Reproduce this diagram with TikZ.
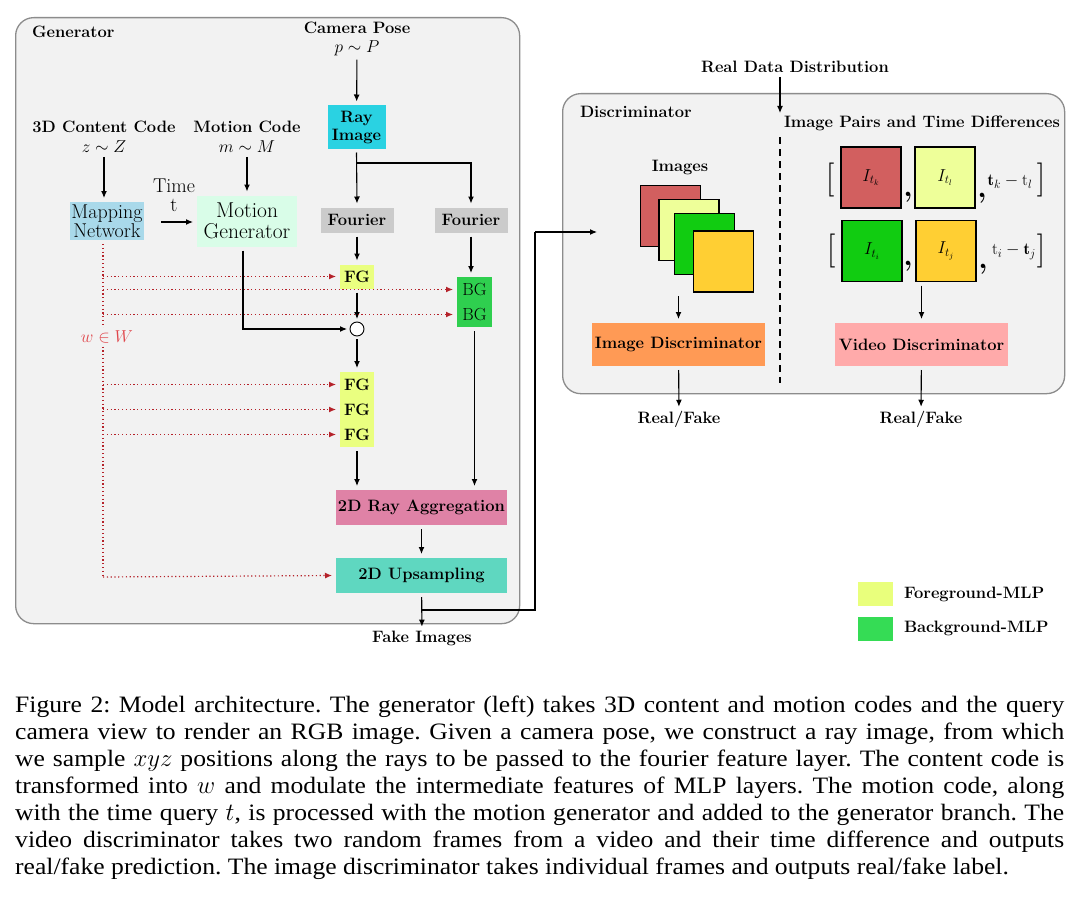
\documentclass[tikz,border=0pt]{standalone}
\usepackage{fontspec}
\newfontfamily\capfont[FakeStretch=1.09]{Liberation Serif}
\usetikzlibrary{arrows.meta,calc}
\definecolor{genbg}{HTML}{F2F2F2}
\definecolor{boxline}{HTML}{8C8C8C}
\definecolor{raycol}{HTML}{2AD2E2}
\definecolor{fourcol}{HTML}{CBCBCB}
\definecolor{mapcol}{HTML}{A9D9EA}
\definecolor{motcol}{HTML}{D9FDE8}
\definecolor{fgcol}{HTML}{EAFF80}
\definecolor{bgcol}{HTML}{2FCF4F}
\definecolor{aggcol}{HTML}{DF82A6}
\definecolor{upcol}{HTML}{5FD7C0}
\definecolor{idcol}{HTML}{FF9A55}
\definecolor{vdcol}{HTML}{FFAAAA}
\definecolor{imred}{HTML}{D25F5F}
\definecolor{imlime}{HTML}{EEFF99}
\definecolor{imgreen}{HTML}{11CC11}
\definecolor{imyellow}{HTML}{FFCF33}
\definecolor{dotred}{HTML}{B5222A}
\definecolor{wred}{HTML}{E0474C}
\definecolor{lgfg}{HTML}{E9FF7C}
\definecolor{lgbg}{HTML}{35DC55}
\tikzset{
 fb/.style={font=\fontsize{16.5}{18}\selectfont\bfseries},
 fr/.style={font=\fontsize{20}{19}\selectfont},
 fm/.style={font=\fontsize{16.5}{18}\selectfont},
 blk/.style={rectangle, inner sep=0pt, outer sep=4pt, align=center, text=black},
 lab/.style={inner sep=1pt, outer sep=3pt, align=center},
 arr/.style={line width=1.1pt, -{Latex[length=7pt,width=6pt]}},
 ln/.style={line width=1.1pt},
 dotarr/.style={draw=dotred, line width=1.2pt, dash pattern=on 1.2pt off 2.6pt, -{Latex[length=7pt,width=6pt,fill=dotred]}},
 dotln/.style={draw=dotred, line width=1.2pt, dash pattern=on 1.2pt off 2.6pt},
 panel/.style={rectangle, draw=boxline, fill=genbg, line width=1.3pt, rounded corners=18pt, inner sep=0pt},
 imgbox/.style={rectangle, draw=black, line width=1.3pt, minimum width=60pt, minimum height=61pt, inner sep=0pt, outer sep=4pt, font=\fontsize{17}{18}\selectfont},
 brk/.style={inner sep=0pt, font=\fontsize{34}{34}\selectfont},
 cma/.style={inner sep=0pt, font=\fontsize{30}{30}\selectfont\bfseries},
 capline/.style={inner sep=0pt, anchor=base west, font=\capfont\fontsize{23.5}{27}\selectfont\frenchspacing},
}
\begin{document}
\begin{tikzpicture}[x=1pt,y=-1pt]
\useasboundingbox (0,0) rectangle (1080,899);
\fill[white] (0,0) rectangle (1080,899);

% ---------------- Generator panel
\node[panel, anchor=north west, minimum width=504pt, minimum height=606pt] (gen) at (15,17) {};
\node[lab, fb, anchor=west] (gentitle) at (28,32) {Generator};

\node[lab, fb] (cam) at (357,28) {Camera Pose};
\node[lab, fm] (camm) at (357,48) {$p\sim P$};
\node[blk, fb, fill=raycol, minimum width=58pt, minimum height=43pt] (ray) at (356.5,127) {Ray\\Image};
\node[blk, fb, fill=fourcol, minimum width=73pt, minimum height=25pt] (four1) at (357,220) {Fourier};
\node[blk, fb, fill=fourcol, minimum width=73pt, minimum height=25pt] (four2) at (471,220) {Fourier};

\node[lab, fb] (cc) at (104,127) {3D Content Code};
\node[lab, fm] (ccm) at (104,147) {$z\sim Z$};
\node[lab, fb] (mc) at (247,127) {Motion Code};
\node[lab, fm] (mcm) at (247,147) {$m\sim M$};

\node[blk, fr, fill=mapcol, minimum width=74pt, minimum height=38pt] (map) at (107,221) {Mapping\\Network};
\node[lab, fr] (time) at (174,195) {Time\\t};
\node[blk, font=\fontsize{21.5}{21}\selectfont, fill=motcol, minimum width=100pt, minimum height=51pt] (mg) at (247,221) {Motion\\Generator};

\node[blk, fb, fill=fgcol, minimum width=34pt, minimum height=24pt] (fg1) at (357,276.5) {FG};
\node[blk, font=\fontsize{17.5}{19}\selectfont, fill=bgcol, minimum width=35pt, minimum height=25pt] (bg1) at (474.5,289.5) {BG};
\node[blk, font=\fontsize{17.5}{19}\selectfont, fill=bgcol, minimum width=35pt, minimum height=25pt] (bg2) at (474.5,314.5) {BG};
\node[circle, draw, fill=white, line width=0.9pt, minimum size=14pt, inner sep=0pt, outer sep=3pt] (add) at (357,329) {};
\node[blk, fb, fill=fgcol, minimum width=34pt, minimum height=25pt] (fg2) at (357,384.5) {FG};
\node[blk, fb, fill=fgcol, minimum width=34pt, minimum height=25pt] (fg3) at (357,409.5) {FG};
\node[blk, fb, fill=fgcol, minimum width=34pt, minimum height=25pt] (fg4) at (357,434.5) {FG};
\node[blk, fb, fill=aggcol, minimum width=171pt, minimum height=35pt] (agg) at (421.5,507.5) {2D Ray Aggregation};
\node[blk, fb, fill=upcol, minimum width=171pt, minimum height=35pt] (up) at (421.5,575.5) {2D Upsampling};
\node[lab, fb] (fake) at (422,638) {Fake Images};

% connectors generator
\draw[arr] (camm) -- (ray);
\draw[arr] (ray.south) -- (four1.north);
\coordinate (rb) at (357,163);
\draw[arr] (rb) -| (four2.north);
\draw[arr] (four1.south) -- (fg1.north);
\draw[arr] (four2.south) -- (four2.south |- bg1.north);
\draw[arr] (ccm.south -| map.north) ++(-3,0) -- ($(map.north)+(-3,0)$);
\draw[arr] (mcm) -- (mg);
\coordinate (tstart) at (161,222);
\draw[arr] (tstart) -- (tstart -| mg.west);
\draw[arr] (fg1.south) -- (add.north);
\draw[arr] ($(mg.south)+(-4,0)$) |- (add.west);
\draw[arr] (add.south) -- (fg2.north);
\draw[arr] (fg4.south) -- (fg4.south |- agg.north);
\draw[arr] (bg2.south) -- (bg2.south |- agg.north);
\draw[arr] (agg) -- (up);
\draw[arr] (up) -- (fake);

% red dotted modulation lines
\coordinate (sp0) at ($(map.south)+(-4,0)$);
\coordinate (sp1) at (103,577);
\draw[dotln] (sp0) -- (sp0 |- sp1);
\draw[dotarr] (sp0 |- fg1) -- (fg1.west);
\draw[dotarr] (sp0 |- bg1) -- (bg1.west);
\draw[dotarr] (sp0 |- bg2) -- (bg2.west);
\draw[dotarr] (sp0 |- fg2) -- (fg2.west);
\draw[dotarr] (sp0 |- fg3) -- (fg3.west);
\draw[dotarr] (sp0 |- fg4) -- (fg4.west);
\draw[dotarr] (sp0 |- sp1) -- (up.west);
\node[fm, text=wred, fill=genbg, inner sep=3pt] (wlab) at (107,337) {$w\in W$};

% ---------------- Discriminator panel
\node[panel, anchor=north west, minimum width=502pt, minimum height=300pt] (disc) at (562,93) {};
\node[lab, fb, anchor=west] (disctitle) at (576,112) {Discriminator};
\node[lab, fb] (rdd) at (795,67) {Real Data Distribution};
\coordinate (dtop) at (780,137);
\coordinate (dbot) at (780,383);
\coordinate (rddend) at (780,113);
\draw[line width=1.3pt, dash pattern=on 7pt off 5pt] (dtop) -- (dbot);
\draw[arr] (rdd.south -| rddend) -- (rddend);
\node[lab, fb] (ipt) at (922,123) {Image Pairs and Time Differences};

\node[lab, fb] (imgs) at (680,167) {Images};
\node[imgbox, fill=imred] (im1) at (670.5,216) {};
\node[imgbox, fill=imlime] (im2) at (689,230) {};
\node[imgbox, fill=imgreen] (im3) at (704.5,244) {};
\node[imgbox, fill=imyellow] (im4) at (723.5,261.5) {};
\node[blk, fb, fill=idcol, minimum width=173pt, minimum height=43pt] (idisc) at (678.5,344.5) {Image Discriminator};
\node[lab, fb] (rf1) at (679,419) {Real/Fake};
\draw[arr] (idisc.north |- im4.south) -- (idisc.north);
\draw[arr] (idisc) -- (rf1);

\node[imgbox, fill=imred] (it1) at (871,177.5) {$I_{t_k}$};
\node[imgbox, fill=imlime] (it2) at (945,177.5) {$I_{t_l}$};
\node[imgbox, fill=imgreen] (it3) at (872,251) {$I_{t_i}$};
\node[imgbox, fill=imyellow] (it4) at (946,251) {$I_{t_j}$};
\node[brk] (lb1) at (830,180) {[};
\node[brk] (rb1) at (1041,180) {]};
\node[brk] (lb2) at (831,251) {[};
\node[brk] (rb2) at (1041,251) {]};
\node[cma] (cm1) at (908,197) {,};
\node[cma] (cm2) at (982,198) {,};
\node[cma] (cm3) at (908,266) {,};
\node[cma] (cm4) at (983,269) {,};
\node[lab, fm] (d1) at (1010,182) {$\mathbf{t}_k-\mathrm{t}_l$};
\node[lab, fm] (d2) at (1014,252) {$\mathrm{t}_i-\mathbf{t}_j$};
\node[blk, fb, fill=vdcol, minimum width=173pt, minimum height=43pt] (vdisc) at (921.5,344.5) {Video Discriminator};
\node[lab, fb] (rf2) at (921,419) {Real/Fake};
\draw[arr] (vdisc.north |- it4.south) -- (vdisc.north);
\draw[arr] (vdisc) -- (rf2);

% fake images to discriminator
\coordinate (br) at (421.5,610);
\coordinate (dinput) at (597,232);
\draw[ln] (br) -- (535,610) -- (535,232) coordinate (bend);
\draw[arr] (bend) -- (dinput);

% ---------------- Legend
\node[rectangle, fill=lgfg, minimum width=35pt, minimum height=24pt, inner sep=0pt] (lg1) at (875.5,594) {};
\node[lab, fb, anchor=west] (lg1t) at (900,594) {Foreground-MLP};
\node[rectangle, fill=lgbg, minimum width=35pt, minimum height=24pt, inner sep=0pt] (lg2) at (875.5,629) {};
\node[lab, fb, anchor=west] (lg2t) at (900,628) {Background-MLP};

% ---------------- Caption
\node[capline] (cap1) at (15,712) {\makebox[1049pt][s]{Figure 2: Model architecture. The generator (left) takes 3D content and motion codes and the query}};
\node[capline] (cap2) at (15,739) {\makebox[1049pt][s]{camera view to render an RGB image. Given a camera pose, we construct a ray image, from which}};
\node[capline] (cap3) at (15,766) {\makebox[1049pt][s]{we sample $xyz$ positions along the rays to be passed to the fourier feature layer. The content code is}};
\node[capline] (cap4) at (15,793) {\makebox[1049pt][s]{transformed into $w$ and modulate the intermediate features of MLP layers. The motion code, along}};
\node[capline] (cap5) at (15,820) {\makebox[1049pt][s]{with the time query $t$, is processed with the motion generator and added to the generator branch. The}};
\node[capline] (cap6) at (15,847) {\makebox[1049pt][s]{video discriminator takes two random frames from a video and their time difference and outputs}};
\node[capline] (cap7) at (15,874) {real/fake prediction. The image discriminator takes individual frames and outputs real/fake label.};
\end{tikzpicture}
\end{document}
